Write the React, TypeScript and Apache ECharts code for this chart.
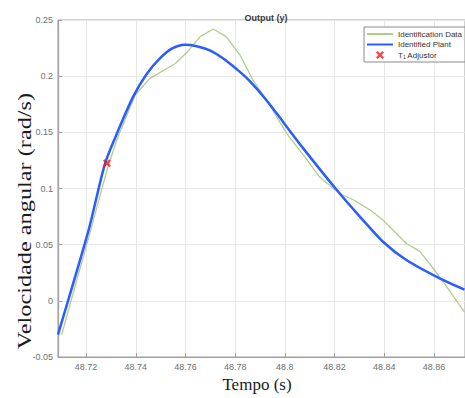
import React, { useEffect, useRef } from "react";
import * as echarts from "echarts";

// Identification data (green)
const dataTime = [48.7102, 48.7216, 48.7285, 48.7323, 48.7397, 48.7457, 48.7558, 48.7605, 48.7658, 48.7712, 48.7765, 48.7819, 48.7873, 48.7926, 48.8007, 48.8074, 48.8141, 48.8195, 48.8234, 48.8275, 48.8342, 48.8395, 48.8489, 48.8543, 48.8583, 48.8637, 48.8723];
const dataValues = [-0.030, 0.061, 0.117, 0.143, 0.183, 0.198, 0.211, 0.221, 0.235, 0.242, 0.235, 0.219, 0.196, 0.179, 0.149, 0.130, 0.110, 0.100, 0.094, 0.090, 0.081, 0.072, 0.051, 0.044, 0.033, 0.017, -0.010];

// Identified plant (blue)
const plantTime = [48.7087, 48.7209, 48.7276, 48.7330, 48.7390, 48.7444, 48.7498, 48.7545, 48.7598, 48.7645, 48.7698, 48.7752, 48.7819, 48.7859, 48.7926, 48.7993, 48.8074, 48.8209, 48.8308, 48.8395, 48.8489, 48.8623, 48.8723];
const plantValues = [-0.030, 0.062, 0.122, 0.152, 0.182, 0.202, 0.216, 0.2245, 0.228, 0.2267, 0.223, 0.2157, 0.2038, 0.1955, 0.1786, 0.1593, 0.1357, 0.0986, 0.0734, 0.0526, 0.0363, 0.020, 0.010];

// T1 adjustor marker
const adjustorTime = [48.7284];
const adjustorValue = [0.1225];

const xMin = 48.7087;
const xMax = 48.8725;
const yMin = -0.05;
const yMax = 0.25;
const yStep = 0.05;

const seriesNames = ["Identification Data", "Identified Plant", "T\u2081 Adjustor"];

const crossPath = "path://M2,0 L5,3 L8,0 L10,2 L7,5 L10,8 L8,10 L5,7 L2,10 L0,8 L3,5 L0,2 Z";

export default function App() {
  const ref = useRef<HTMLDivElement>(null);
  useEffect(() => {
    if (!ref.current) return;
    const chart = echarts.init(ref.current, null, { renderer: "svg" });
    const axisGrey = "#a0a0a0";
    const labelGrey = "#707070";
    chart.setOption({
      animation: false,
      backgroundColor: "#ffffff",
      title: {
        text: "Output (y)",
        left: 261,
        top: 8,
        textAlign: "center",
        textStyle: { fontSize: 9, fontWeight: "bold", color: "#3a3a3a", fontFamily: "Liberation Sans" },
      },
      grid: {
        left: 58,
        right: 0,
        top: 20,
        bottom: 41,
        show: true,
        borderColor: axisGrey,
        borderWidth: 1,
      },
      legend: {
        orient: "vertical",
        left: 364,
        top: 27,
        padding: [3, 3, 3, 2],
        itemWidth: 26,
        itemHeight: 8,
        itemGap: 2.5,
        backgroundColor: "#ffffff",
        borderColor: "#8a8a8a",
        borderWidth: 1,
        textStyle: { fontSize: 8, color: "#333", fontFamily: "Liberation Sans" },
        data: [
          { name: seriesNames[0], itemStyle: { opacity: 0 } },
          { name: seriesNames[1], itemStyle: { opacity: 0 } },
          { name: seriesNames[2] },
        ],
      },
      xAxis: {
        type: "value",
        min: xMin,
        max: xMax,
        splitNumber: 8,
        axisLine: { show: true, onZero: false, lineStyle: { color: axisGrey, width: 1.2 } },
        axisTick: { show: true, inside: true, length: 4, lineStyle: { color: axisGrey } },
        splitLine: { show: true, lineStyle: { color: "#e8e8e8", width: 1 } },
        axisLabel: {
          color: labelGrey,
          fontSize: 9,
          fontFamily: "Liberation Sans",
          margin: 5,
          showMinLabel: false,
          showMaxLabel: false,
          formatter: (v: number) => {
            const k = Math.round(v / 0.02);
            if (Math.abs(v - k * 0.02) > 1e-6) return "";
            return String(Math.round(v * 100) / 100);
          },
        },
      },
      yAxis: {
        type: "value",
        min: yMin,
        max: yMax,
        interval: yStep,
        axisLine: { show: true, onZero: false, lineStyle: { color: axisGrey, width: 1.2 } },
        axisTick: { show: true, inside: true, length: 4, lineStyle: { color: axisGrey } },
        splitLine: { show: true, lineStyle: { color: "#e8e8e8", width: 1 } },
        axisLabel: {
          color: labelGrey,
          fontSize: 9,
          fontFamily: "Liberation Sans",
          margin: 5,
          formatter: (v: number) => String(Math.round(v * 100) / 100),
        },
      },
      graphic: [
        {
          type: "text",
          x: 25,
          y: 221,
          rotation: Math.PI / 2,
          scaleX: 1.35,
          style: {
            text: "Velocidade angular (rad/s)",
            fontSize: 18,
            fontFamily: "Liberation Serif",
            fill: "#1a1a1a",
            align: "center",
            verticalAlign: "middle",
          },
        },
        {
          type: "text",
          x: 257,
          y: 384,
          style: {
            text: "Tempo (s)",
            fontSize: 17,
            fontFamily: "Liberation Serif",
            fill: "#1a1a1a",
            align: "center",
            verticalAlign: "middle",
          },
        },
      ],
      series: [
        {
          name: seriesNames[0],
          type: "line",
          data: dataTime.map((t, i) => [t, dataValues[i]]),
          symbol: "none",
          showSymbol: false,
          lineStyle: { color: "#b2cc8c", width: 1.3 },
          itemStyle: { color: "#b2cc8c" },
          z: 2,
        },
        {
          name: seriesNames[1],
          type: "line",
          data: plantTime.map((t, i) => [t, plantValues[i]]),
          symbol: "none",
          showSymbol: false,
          smooth: 0.25,
          lineStyle: { color: "#2a5cff", width: 2.5 },
          itemStyle: { color: "#2a5cff" },
          z: 3,
        },
        {
          name: seriesNames[2],
          type: "scatter",
          data: adjustorTime.map((t, i) => [t, adjustorValue[i]]),
          symbol: crossPath,
          symbolSize: 8,
          symbolKeepAspect: true,
          itemStyle: { color: "#ff1010" },
          z: 4,
        },
      ],
    });
    return () => chart.dispose();
  }, []);
  return <div ref={ref} style={{ width: 465, height: 398, position: "absolute", left: 0, top: 0 }} />;
}
